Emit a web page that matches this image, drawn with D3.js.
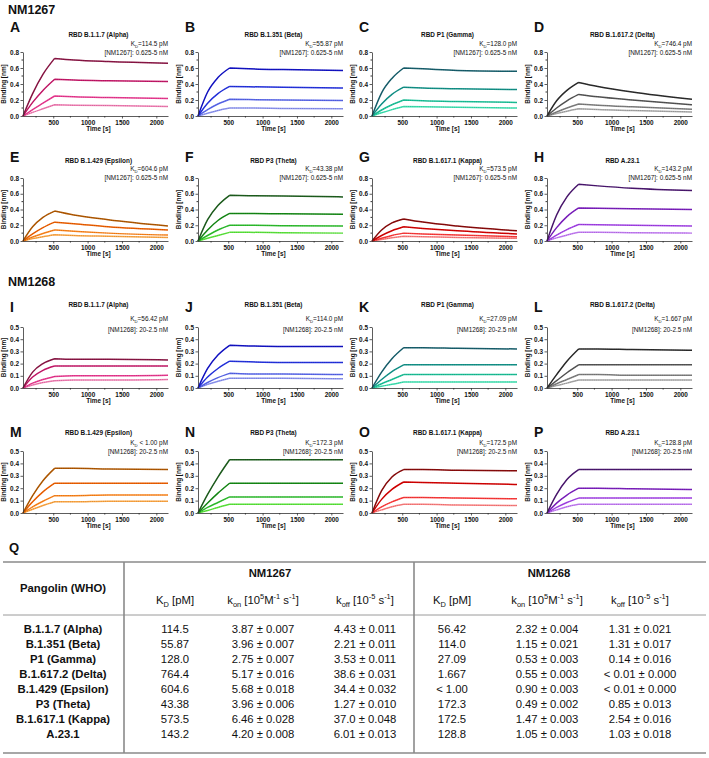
<!DOCTYPE html>
<html>
<head>
<meta charset="utf-8">
<script src="https://cdn.jsdelivr.net/npm/d3@7"></script>
<style>
  body { margin: 0; background: #fff; }
  svg text { font-family: "Liberation Sans", Arial, sans-serif; fill: #111; }
</style>
</head>
<body>
<div id="fig"></div>
<script>
'use strict';

const sampleTimes = [60, 200, 350, 520, 800, 1300, 2170];

const lettersNM1267 = ['A', 'B', 'C', 'D', 'E', 'F', 'G', 'H'];
const lettersNM1268 = ['I', 'J', 'K', 'L', 'M', 'N', 'O', 'P'];

const variantTitles = [
    'RBD B.1.1.7 (Alpha)', 'RBD B.1.351 (Beta)', 'RBD P1 (Gamma)', 'RBD B.1.617.2 (Delta)',
    'RBD B.1.429 (Epsilon)', 'RBD P3 (Theta)', 'RBD B.1.617.1 (Kappa)', 'RBD A.23.1'
];

const kdLabelsNM1267 = ['=114.5 pM', '=55.87 pM', '=128.0 pM', '=746.4 pM', '=604.6 pM', '=43.38 pM', '=573.5 pM', '=143.2 pM'];
const kdLabelsNM1268 = ['=56.42 pM', '=114.0 pM', '=27.09 pM', '=1.667 pM', ' < 1.00 pM', '=172.3 pM', '=172.5 pM', '=128.8 pM'];

const concLabels = ['[NM1267]: 0.625-5 nM', '[NM1268]: 20-2.5 nM'];

// dark (highest concentration) to light (lowest)
const variantColors = [
    ['#8c1545', '#c8186a', '#ec3a92', '#f37db4'],
    ['#1212c8', '#2432e2', '#5a68ee', '#8e96f4'],
    ['#17606e', '#12948a', '#1cc49a', '#3ee3b2'],
    ['#2b2b2b', '#555555', '#808080', '#ababab'],
    ['#b35900', '#f06000', '#ff861c', '#ffa844'],
    ['#1d5e1d', '#148a14', '#2ec02e', '#5ce83c'],
    ['#8b0a0a', '#d60000', '#ff3b3b', '#ff8080'],
    ['#4b1670', '#7d1fc0', '#a543ea', '#c67ef7']
];

// binding [nm] at sampleTimes, four concentrations per variant
const bindingNM1267 = [
    [[0, 0.28, 0.52, 0.72, 0.70, 0.68, 0.66], [0, 0.17, 0.32, 0.46, 0.45, 0.44, 0.43], [0, 0.08, 0.16, 0.25, 0.24, 0.23, 0.22], [0, 0.045, 0.09, 0.14, 0.135, 0.13, 0.12]],
    [[0, 0.30, 0.48, 0.60, 0.59, 0.58, 0.57], [0, 0.16, 0.28, 0.37, 0.365, 0.36, 0.35], [0, 0.08, 0.15, 0.21, 0.205, 0.20, 0.195], [0, 0.035, 0.07, 0.10, 0.10, 0.095, 0.09]],
    [[0, 0.29, 0.47, 0.60, 0.59, 0.57, 0.56], [0, 0.15, 0.27, 0.36, 0.35, 0.34, 0.33], [0, 0.075, 0.14, 0.20, 0.19, 0.18, 0.17], [0, 0.04, 0.08, 0.12, 0.115, 0.11, 0.10]],
    [[0, 0.19, 0.32, 0.42, 0.37, 0.30, 0.21], [0, 0.10, 0.19, 0.27, 0.24, 0.20, 0.14], [0, 0.05, 0.10, 0.15, 0.135, 0.115, 0.085], [0, 0.03, 0.06, 0.09, 0.08, 0.07, 0.05]],
    [[0, 0.18, 0.30, 0.38, 0.33, 0.27, 0.19], [0, 0.09, 0.17, 0.24, 0.22, 0.18, 0.14], [0, 0.05, 0.095, 0.14, 0.125, 0.10, 0.075], [0, 0.03, 0.055, 0.08, 0.07, 0.06, 0.045]],
    [[0, 0.27, 0.45, 0.58, 0.575, 0.57, 0.56], [0, 0.14, 0.26, 0.35, 0.35, 0.345, 0.34], [0, 0.07, 0.14, 0.20, 0.20, 0.195, 0.19], [0, 0.035, 0.07, 0.11, 0.11, 0.105, 0.10]],
    [[0, 0.14, 0.23, 0.28, 0.24, 0.19, 0.13], [0, 0.07, 0.13, 0.18, 0.16, 0.13, 0.09], [0, 0.035, 0.07, 0.10, 0.09, 0.075, 0.055], [0, 0.02, 0.04, 0.06, 0.055, 0.045, 0.035]],
    [[0, 0.33, 0.56, 0.72, 0.70, 0.67, 0.64], [0, 0.17, 0.31, 0.42, 0.415, 0.41, 0.40], [0, 0.075, 0.145, 0.21, 0.205, 0.20, 0.19], [0, 0.04, 0.075, 0.11, 0.11, 0.105, 0.10]]
];

const bindingNM1268 = [
    [[0, 0.13, 0.20, 0.24, 0.235, 0.235, 0.23], [0, 0.09, 0.145, 0.18, 0.18, 0.18, 0.18], [0, 0.04, 0.07, 0.095, 0.10, 0.10, 0.105], [0, 0.025, 0.045, 0.06, 0.065, 0.065, 0.07]],
    [[0, 0.16, 0.27, 0.35, 0.345, 0.34, 0.34], [0, 0.09, 0.16, 0.22, 0.215, 0.21, 0.21], [0, 0.045, 0.085, 0.12, 0.115, 0.115, 0.11], [0, 0.03, 0.055, 0.08, 0.08, 0.08, 0.075]],
    [[0, 0.13, 0.24, 0.33, 0.33, 0.325, 0.32], [0, 0.07, 0.135, 0.19, 0.19, 0.19, 0.19], [0, 0.035, 0.07, 0.11, 0.11, 0.11, 0.11], [0, 0.015, 0.03, 0.05, 0.05, 0.05, 0.05]],
    [[0, 0.11, 0.22, 0.32, 0.32, 0.315, 0.31], [0, 0.06, 0.125, 0.19, 0.19, 0.19, 0.19], [0, 0.035, 0.07, 0.11, 0.11, 0.105, 0.105], [0, 0.02, 0.04, 0.065, 0.065, 0.065, 0.065]],
    [[0, 0.14, 0.26, 0.36, 0.36, 0.355, 0.35], [0, 0.09, 0.17, 0.24, 0.24, 0.24, 0.24], [0, 0.05, 0.095, 0.14, 0.14, 0.145, 0.145], [0, 0.03, 0.06, 0.09, 0.09, 0.095, 0.095]],
    [[0, 0.15, 0.29, 0.43, 0.43, 0.43, 0.43], [0, 0.08, 0.16, 0.24, 0.24, 0.24, 0.24], [0, 0.045, 0.085, 0.13, 0.13, 0.13, 0.13], [0, 0.02, 0.045, 0.07, 0.07, 0.07, 0.07]],
    [[0, 0.18, 0.29, 0.35, 0.35, 0.345, 0.34], [0, 0.11, 0.19, 0.25, 0.245, 0.24, 0.23], [0, 0.05, 0.09, 0.125, 0.125, 0.12, 0.115], [0, 0.025, 0.05, 0.07, 0.07, 0.065, 0.06]],
    [[0, 0.15, 0.27, 0.35, 0.35, 0.35, 0.35], [0, 0.08, 0.145, 0.20, 0.20, 0.195, 0.19], [0, 0.045, 0.085, 0.12, 0.12, 0.12, 0.12], [0, 0.025, 0.05, 0.07, 0.07, 0.07, 0.07]]
];

const xTicks = [500, 1000, 1500, 2000];
const xMinorTicks = [250, 750, 1250, 1750];
const yTicksNM1267 = [0, 0.2, 0.4, 0.6, 0.8];
const yMinorNM1267 = [0.1, 0.3, 0.5, 0.7];
const yTicksNM1268 = [0, 0.1, 0.2, 0.3, 0.4, 0.5];

// table Q
const pangolinNames = ['B.1.1.7 (Alpha)', 'B.1.351 (Beta)', 'P1 (Gamma)', 'B.1.617.2 (Delta)', 'B.1.429 (Epsilon)', 'P3 (Theta)', 'B.1.617.1 (Kappa)', 'A.23.1'];
const kdNM1267 = ['114.5', '55.87', '128.0', '764.4', '604.6', '43.38', '573.5', '143.2'];
const konNM1267 = ['3.87 ± 0.007', '3.96 ± 0.007', '2.75 ± 0.007', '5.17 ± 0.016', '5.68 ± 0.018', '3.96 ± 0.006', '6.46 ± 0.028', '4.20 ± 0.008'];
const koffNM1267 = ['4.43 ± 0.011', '2.21 ± 0.011', '3.53 ± 0.011', '38.6 ± 0.031', '34.4 ± 0.032', '1.27 ± 0.010', '37.0 ± 0.048', '6.01 ± 0.013'];
const kdNM1268 = ['56.42', '114.0', '27.09', '1.667', '< 1.00', '172.3', '172.5', '128.8'];
const konNM1268 = ['2.32 ± 0.004', '1.15 ± 0.021', '0.53 ± 0.003', '0.55 ± 0.003', '0.90 ± 0.003', '0.49 ± 0.002', '1.47 ± 0.003', '1.05 ± 0.003'];
const koffNM1268 = ['1.31 ± 0.021', '1.31 ± 0.017', '0.14 ± 0.016', '< 0.01 ± 0.000', '< 0.01 ± 0.000', '0.85 ± 0.013', '2.54 ± 0.016', '1.03 ± 0.018'];


const W = 709, H = 758;
const plotW = 145;
const colLeft = [23, 198, 372, 547];
const rows = [
    { top: 52, bottom: 116, letter: 32, title: 36.5, kd: 46, conc: 55 },
    { top: 178, bottom: 241, letter: 162, title: 162.5, kd: 171, conc: 180 },
    { top: 327, bottom: 388, letter: 312, title: 306.5, kd: 321, conc: 332 },
    { top: 451, bottom: 513, letter: 437, title: 434.5, kd: 445, conc: 454 }
];

const svg = d3.select('#fig').append('svg')
    .attr('width', W)
    .attr('height', H)
    .attr('viewBox', [0, 0, W, H].join(' '));


function appendRich( textSel, parts, size ) {
    var shift = 0;
    parts.forEach( function( p ) {
        var target = p[1] === 'sup' ? -0.4 * size : ( p[1] === 'sub' ? 0.25 * size : 0 );
        textSel.append('tspan')
            .attr('dy', target - shift)
            .attr('font-size', p[1] === 'n' ? size : size * 0.66)
            .text( p[0] );
        shift = target;
    });
}


function drawPanel( o ) {
    var x = d3.scaleLinear().domain([ 60, 2170 ]).range([ o.left, o.left + plotW ]);
    var y = d3.scaleLinear().domain([ 0, o.yMax ]).range([ o.row.bottom, o.row.top ]);
    var g = svg.append('g').attr('class', 'panel');

    g.append('text')
        .attr('x', o.left - 13).attr('y', o.row.letter)
        .attr('font-size', 14).attr('font-weight', 'bold')
        .text( o.letter );

    g.append('text')
        .attr('x', o.left + plotW / 2 + 3).attr('y', o.row.title)
        .attr('text-anchor', 'middle')
        .attr('font-size', 6.4).attr('font-weight', 'bold')
        .text( o.title );

    var kd = g.append('text')
        .attr('x', o.left + plotW).attr('y', o.row.kd)
        .attr('text-anchor', 'end');
    appendRich( kd, [ [ 'K', 'n' ], [ 'D', 'sub' ], [ o.kd, 'n' ] ], 6.4 );

    g.append('text')
        .attr('x', o.left + plotW).attr('y', o.row.conc)
        .attr('text-anchor', 'end')
        .attr('font-size', 6.4)
        .text( o.conc );

    // traces: association and dissociation drawn as separate monotone pieces
    var line = d3.line()
        .x( function( d ) { return x( d[0] ); })
        .y( function( d ) { return y( d[1] ); })
        .curve( d3.curveMonotoneX );

    var traces = o.series.map( function( vals, i ) {
        var pts = vals.map( function( v, j ) { return [ sampleTimes[j], v ]; });
        return { color: o.colors[i], d: line( pts.slice(0, 4) ) + line( pts.slice(3) ) };
    }).reverse();

    g.selectAll('.trace')
        .data( traces )
        .enter()
            .append('path')
            .attr('class', 'trace')
            .attr('d', function( d ) { return d.d; })
            .attr('fill', 'none')
            .attr('stroke', function( d ) { return d.color; })
            .attr('stroke-width', 1.5);

    g.selectAll('.fit')
        .data( traces )
        .enter()
            .append('path')
            .attr('class', 'fit')
            .attr('d', function( d ) { return d.d; })
            .attr('fill', 'none')
            .attr('stroke', '#111')
            .attr('stroke-opacity', 0.4)
            .attr('stroke-width', 0.5)
            .attr('stroke-dasharray', '0.8,1.4');

    // axes
    var xAxis = g.append('g')
        .attr('transform', 'translate(0,' + o.row.bottom + ')')
        .call( d3.axisBottom( x ).tickValues( xTicks ).tickFormat( d3.format('d') ).tickSize( 2.5 ).tickSizeOuter( 0 ).tickPadding( 1.5 ) );
    xAxis.selectAll('.minor')
        .data( xMinorTicks )
        .enter()
            .append('line')
            .attr('class', 'minor')
            .attr('x1', function( d ) { return x( d ); })
            .attr('x2', function( d ) { return x( d ); })
            .attr('y2', 1.5)
            .attr('stroke', '#333');

    var yAxis = g.append('g')
        .attr('transform', 'translate(' + o.left + ',0)')
        .call( d3.axisLeft( y ).tickValues( o.yTicks ).tickFormat( d3.format('.1f') ).tickSize( 2.5 ).tickSizeOuter( 0 ).tickPadding( 1.5 ) );
    yAxis.selectAll('.minor')
        .data( o.yMinor )
        .enter()
            .append('line')
            .attr('class', 'minor')
            .attr('y1', function( d ) { return y( d ); })
            .attr('y2', function( d ) { return y( d ); })
            .attr('x2', -1.5)
            .attr('stroke', '#333');

    [ xAxis, yAxis ].forEach( function( a ) {
        a.attr('font-family', null).attr('font-size', null);
        a.selectAll('.domain, .tick line').attr('stroke', '#333').attr('stroke-width', 0.8);
        a.selectAll('text').attr('font-size', 6.4).attr('font-weight', 'bold').attr('fill', '#222');
    });

    g.append('text')
        .attr('transform', 'translate(' + ( o.left - 17 ) + ',' + ( ( o.row.top + o.row.bottom ) / 2 ) + ') rotate(-90)')
        .attr('text-anchor', 'middle')
        .attr('font-size', 6.4).attr('font-weight', 'bold')
        .text('Binding [nm]');

    g.append('text')
        .attr('x', o.left + plotW / 2 + 3).attr('y', o.row.bottom + 15)
        .attr('text-anchor', 'middle')
        .attr('font-size', 6.4).attr('font-weight', 'bold')
        .text('Time [s]');
}


function drawGroup( label, labelY, rowOffset, letters, kds, conc, binding, yMax, yTicks, yMinor ) {
    svg.append('text')
        .attr('x', 8).attr('y', labelY)
        .attr('font-size', 12.5).attr('font-weight', 'bold')
        .text( label );

    letters.forEach( function( letter, i ) {
        drawPanel({
            letter: letter,
            title: variantTitles[i],
            kd: kds[i],
            conc: conc,
            colors: variantColors[i],
            series: binding[i],
            left: colLeft[ i % 4 ],
            row: rows[ rowOffset + Math.floor( i / 4 ) ],
            yMax: yMax,
            yTicks: yTicks,
            yMinor: yMinor
        });
    });
}

drawGroup('NM1267', 14, 0, lettersNM1267, kdLabelsNM1267, concLabels[0], bindingNM1267, 0.8, yTicksNM1267, yMinorNM1267);
drawGroup('NM1268', 286, 2, lettersNM1268, kdLabelsNM1268, concLabels[1], bindingNM1268, 0.5, yTicksNM1268, []);


// ---- table Q ----
function drawTable() {
    var t = svg.append('g').attr('class', 'table');
    var fs = 11.3;
    var rowY0 = 632.5, rowStep = 15;
    var cols = [ 175, 263, 365, 452, 547, 640 ];
    var colData = [ kdNM1267, konNM1267, koffNM1267, kdNM1268, konNM1268, koffNM1268 ];

    t.append('text').attr('x', 9).attr('y', 552)
        .attr('font-size', 13).attr('font-weight', 'bold').text('Q');

    t.append('line').attr('x1', 3).attr('x2', 706).attr('y1', 562).attr('y2', 562)
        .attr('stroke', '#8a8a8a').attr('stroke-width', 1.6);
    t.append('line').attr('x1', 3).attr('x2', 706).attr('y1', 615).attr('y2', 615)
        .attr('stroke', '#9a9a9a').attr('stroke-width', 1);
    t.append('line').attr('x1', 3).attr('x2', 706).attr('y1', 753).attr('y2', 753)
        .attr('stroke', '#8a8a8a').attr('stroke-width', 1.6);
    [ 124, 414 ].forEach( function( vx ) {
        t.append('line').attr('x1', vx).attr('x2', vx).attr('y1', 562).attr('y2', 753)
            .attr('stroke', '#8a8a8a').attr('stroke-width', 1.6);
    });

    t.append('text').attr('x', 270).attr('y', 577).attr('text-anchor', 'middle')
        .attr('font-size', fs).attr('font-weight', 'bold').text('NM1267');
    t.append('text').attr('x', 549).attr('y', 577).attr('text-anchor', 'middle')
        .attr('font-size', fs).attr('font-weight', 'bold').text('NM1268');
    t.append('text').attr('x', 63).attr('y', 592).attr('text-anchor', 'middle')
        .attr('font-size', fs).attr('font-weight', 'bold').text('Pangolin (WHO)');

    var headers = [
        [ [ 'K', 'n' ], [ 'D', 'sub' ], [ ' [pM]', 'n' ] ],
        [ [ 'k', 'n' ], [ 'on', 'sub' ], [ ' [10', 'n' ], [ '5', 'sup' ], [ 'M', 'n' ], [ '-1', 'sup' ], [ ' s', 'n' ], [ '-1', 'sup' ], [ ']', 'n' ] ],
        [ [ 'k', 'n' ], [ 'off', 'sub' ], [ '  [10', 'n' ], [ '-5', 'sup' ], [ ' s', 'n' ], [ '-1', 'sup' ], [ ']', 'n' ] ]
    ];
    cols.forEach( function( cx, i ) {
        var h = t.append('text').attr('x', cx).attr('y', 604).attr('text-anchor', 'middle');
        appendRich( h, headers[ i % 3 ], fs );
    });

    t.selectAll('.rowname')
        .data( pangolinNames )
        .enter()
            .append('text')
            .attr('class', 'rowname')
            .attr('x', 63)
            .attr('y', function( d, i ) { return rowY0 + i * rowStep; })
            .attr('text-anchor', 'middle')
            .attr('font-size', fs).attr('font-weight', 'bold')
            .text( function( d ) { return d; });

    colData.forEach( function( values, c ) {
        t.selectAll('.col' + c)
            .data( values )
            .enter()
                .append('text')
                .attr('class', 'col' + c)
                .attr('x', cols[c])
                .attr('y', function( d, i ) { return rowY0 + i * rowStep; })
                .attr('text-anchor', 'middle')
                .attr('font-size', fs)
                .attr('fill', '#222')
                .text( function( d ) { return d; });
    });
}

drawTable();
</script>
</body>
</html>
